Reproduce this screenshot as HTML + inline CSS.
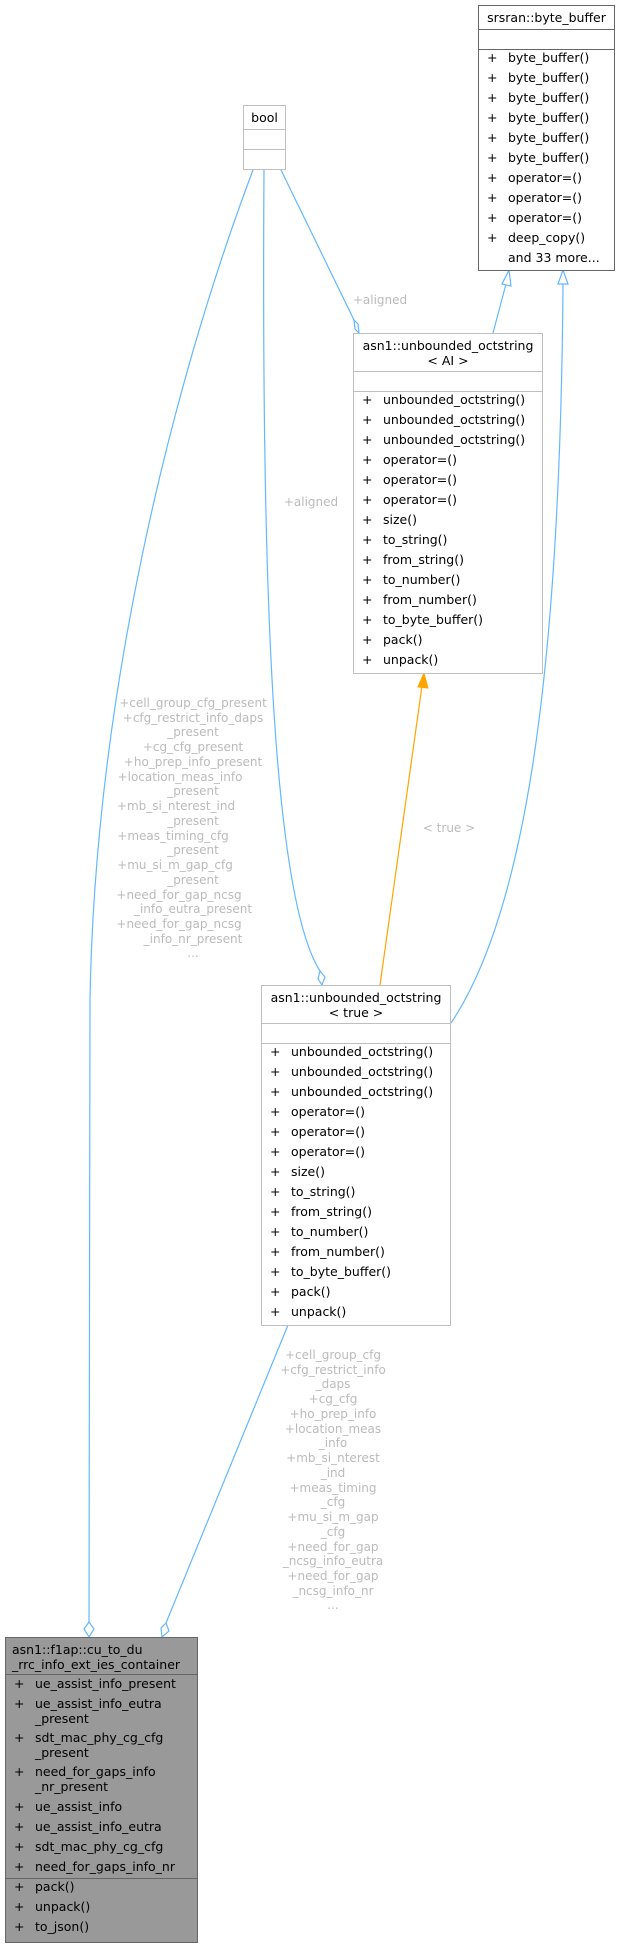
<!DOCTYPE html>
<html><head><meta charset="utf-8"><style>
html,body{margin:0;padding:0;background:#fff}
svg{display:block}
text{font-family:"DejaVu Sans","Liberation Sans",sans-serif}
.t{font-size:12.5px;fill:#000}
.l{font-size:12px;fill:#bbb}
</style></head><body>
<svg width="620" height="1947" viewBox="0 0 620 1947" xmlns="http://www.w3.org/2000/svg">
<g fill="none" stroke="#63b8ff" stroke-width="1.2">
<path d="M253,170 C170,390 95,700 90,1000 L89,1622"/>
<path d="M264,170 C261,620 275,900 320,971"/>
<path d="M281,170 L354,320"/>
<path d="M493,333 L506,284"/>
<path d="M451,1023 C520,920 560,700 563,284"/>
<path d="M288,1325 L166,1623"/>
</g>
<g fill="#fff" stroke="#63b8ff" stroke-width="1.2">
<polygon points="89,1622 84,1629 89,1637 94,1629"/>
<polygon points="166,1623 161,1628 162,1637 169,1631"/>
<polygon points="320,971 318,979 322,985 325,977"/>
<polygon points="354,320 355,329 359,333 358,324"/>
<polygon points="509,270 502,284 511,286"/>
<polygon points="563,270 558,284 568,284"/>
</g>
<path d="M380,985 L422,686" stroke="#ffa500" stroke-width="1.2" fill="none"/>
<polygon points="424,673 418,687 428,688" fill="#ffa500" stroke="#ffa500"/>
<text class="l" x="380" y="304" text-anchor="middle">+aligned</text>
<text class="l" x="311" y="506" text-anchor="middle">+aligned</text>
<text class="l" x="449" y="832" text-anchor="middle">&lt; true &gt;</text>
<g class="l" text-anchor="middle">
<text x="193" y="707">+cell_group_cfg_present</text>
<text x="193" y="722">+cfg_restrict_info_daps</text>
<text x="193" y="736">_present</text>
<text x="193" y="751">+cg_cfg_present</text>
<text x="193" y="766">+ho_prep_info_present</text>
<text x="180" y="781">+location_meas_info</text>
<text x="193" y="795">_present</text>
<text x="176" y="810">+mb_si_nterest_ind</text>
<text x="193" y="825">_present</text>
<text x="173" y="840">+meas_timing_cfg</text>
<text x="193" y="854">_present</text>
<text x="175" y="869">+mu_si_m_gap_cfg</text>
<text x="193" y="884">_present</text>
<text x="179" y="899">+need_for_gap_ncsg</text>
<text x="193" y="913">_info_eutra_present</text>
<text x="179" y="928">+need_for_gap_ncsg</text>
<text x="193" y="943">_info_nr_present</text>
<text x="193" y="957">...</text>
</g>
<g class="l" text-anchor="middle">
<text x="333" y="1359">+cell_group_cfg</text>
<text x="333" y="1374">+cfg_restrict_info</text>
<text x="333" y="1388">_daps</text>
<text x="333" y="1403">+cg_cfg</text>
<text x="333" y="1418">+ho_prep_info</text>
<text x="333" y="1433">+location_meas</text>
<text x="333" y="1447">_info</text>
<text x="333" y="1462">+mb_si_nterest</text>
<text x="333" y="1477">_ind</text>
<text x="333" y="1492">+meas_timing</text>
<text x="333" y="1506">_cfg</text>
<text x="333" y="1521">+mu_si_m_gap</text>
<text x="333" y="1536">_cfg</text>
<text x="333" y="1551">+need_for_gap</text>
<text x="333" y="1565">_ncsg_info_eutra</text>
<text x="333" y="1580">+need_for_gap</text>
<text x="333" y="1595">_ncsg_info_nr</text>
<text x="333" y="1609">...</text>
</g>
<g fill="#fff" stroke="#bfbfbf" stroke-width="1">
<rect x="243.5" y="105.5" width="42" height="64"/>
<line x1="243.5" y1="129.5" x2="285.5" y2="129.5"/>
<line x1="243.5" y1="149.5" x2="285.5" y2="149.5"/>
</g>
<text class="t" x="264.5" y="122" text-anchor="middle">bool</text>
<g fill="#fff" stroke="#666" stroke-width="1">
<rect x="478.5" y="5.5" width="136" height="265"/>
<line x1="478.5" y1="29.5" x2="614.5" y2="29.5"/>
<line x1="478.5" y1="49.5" x2="614.5" y2="49.5"/>
</g>
<text class="t" x="546.5" y="22" text-anchor="middle">srsran::byte_buffer</text>
<g class="t">
<text x="487" y="62">+</text><text x="508" y="62">byte_buffer()</text>
<text x="487" y="82">+</text><text x="508" y="82">byte_buffer()</text>
<text x="487" y="102">+</text><text x="508" y="102">byte_buffer()</text>
<text x="487" y="122">+</text><text x="508" y="122">byte_buffer()</text>
<text x="487" y="142">+</text><text x="508" y="142">byte_buffer()</text>
<text x="487" y="162">+</text><text x="508" y="162">byte_buffer()</text>
<text x="487" y="182">+</text><text x="508" y="182">operator=()</text>
<text x="487" y="202">+</text><text x="508" y="202">operator=()</text>
<text x="487" y="222">+</text><text x="508" y="222">operator=()</text>
<text x="487" y="242">+</text><text x="508" y="242">deep_copy()</text>
<text x="508" y="262">and 33 more...</text>
</g>
<g fill="#fff" stroke="#bfbfbf" stroke-width="1">
<rect x="353.5" y="333.5" width="189" height="340"/>
<line x1="353.5" y1="371.5" x2="542.5" y2="371.5"/>
<line x1="353.5" y1="391.5" x2="542.5" y2="391.5"/>
</g>
<text class="t" x="448" y="350" text-anchor="middle">asn1::unbounded_octstring</text>
<text class="t" x="448" y="365" text-anchor="middle">&lt; AI &gt;</text>
<g class="t">
<text x="362" y="404">+</text><text x="383" y="404">unbounded_octstring()</text>
<text x="362" y="424">+</text><text x="383" y="424">unbounded_octstring()</text>
<text x="362" y="444">+</text><text x="383" y="444">unbounded_octstring()</text>
<text x="362" y="464">+</text><text x="383" y="464">operator=()</text>
<text x="362" y="484">+</text><text x="383" y="484">operator=()</text>
<text x="362" y="504">+</text><text x="383" y="504">operator=()</text>
<text x="362" y="524">+</text><text x="383" y="524">size()</text>
<text x="362" y="544">+</text><text x="383" y="544">to_string()</text>
<text x="362" y="564">+</text><text x="383" y="564">from_string()</text>
<text x="362" y="584">+</text><text x="383" y="584">to_number()</text>
<text x="362" y="604">+</text><text x="383" y="604">from_number()</text>
<text x="362" y="624">+</text><text x="383" y="624">to_byte_buffer()</text>
<text x="362" y="644">+</text><text x="383" y="644">pack()</text>
<text x="362" y="664">+</text><text x="383" y="664">unpack()</text>
</g>
<g fill="#fff" stroke="#bfbfbf" stroke-width="1">
<rect x="261.5" y="985.5" width="189" height="340"/>
<line x1="261.5" y1="1023.5" x2="450.5" y2="1023.5"/>
<line x1="261.5" y1="1043.5" x2="450.5" y2="1043.5"/>
</g>
<text class="t" x="356" y="1002" text-anchor="middle">asn1::unbounded_octstring</text>
<text class="t" x="356" y="1017" text-anchor="middle">&lt; true &gt;</text>
<g class="t">
<text x="270" y="1056">+</text><text x="291" y="1056">unbounded_octstring()</text>
<text x="270" y="1076">+</text><text x="291" y="1076">unbounded_octstring()</text>
<text x="270" y="1096">+</text><text x="291" y="1096">unbounded_octstring()</text>
<text x="270" y="1116">+</text><text x="291" y="1116">operator=()</text>
<text x="270" y="1136">+</text><text x="291" y="1136">operator=()</text>
<text x="270" y="1156">+</text><text x="291" y="1156">operator=()</text>
<text x="270" y="1176">+</text><text x="291" y="1176">size()</text>
<text x="270" y="1196">+</text><text x="291" y="1196">to_string()</text>
<text x="270" y="1216">+</text><text x="291" y="1216">from_string()</text>
<text x="270" y="1236">+</text><text x="291" y="1236">to_number()</text>
<text x="270" y="1256">+</text><text x="291" y="1256">from_number()</text>
<text x="270" y="1276">+</text><text x="291" y="1276">to_byte_buffer()</text>
<text x="270" y="1296">+</text><text x="291" y="1296">pack()</text>
<text x="270" y="1316">+</text><text x="291" y="1316">unpack()</text>
</g>
<g fill="#999" stroke="#666" stroke-width="1">
<rect x="5.5" y="1637.5" width="192" height="305"/>
<line x1="5.5" y1="1674.5" x2="197.5" y2="1674.5"/>
<line x1="5.5" y1="1878.5" x2="197.5" y2="1878.5"/>
</g>
<text class="t" x="12" y="1654">asn1::f1ap::cu_to_du</text>
<text class="t" x="12" y="1669">_rrc_info_ext_ies_container</text>
<g class="t">
<text x="14" y="1688">+</text><text x="35" y="1688">ue_assist_info_present</text>
<text x="14" y="1708">+</text><text x="35" y="1708">ue_assist_info_eutra</text>
<text x="35" y="1723">_present</text>
<text x="14" y="1742">+</text><text x="35" y="1742">sdt_mac_phy_cg_cfg</text>
<text x="35" y="1757">_present</text>
<text x="14" y="1776">+</text><text x="35" y="1776">need_for_gaps_info</text>
<text x="35" y="1791">_nr_present</text>
<text x="14" y="1811">+</text><text x="35" y="1811">ue_assist_info</text>
<text x="14" y="1831">+</text><text x="35" y="1831">ue_assist_info_eutra</text>
<text x="14" y="1851">+</text><text x="35" y="1851">sdt_mac_phy_cg_cfg</text>
<text x="14" y="1871">+</text><text x="35" y="1871">need_for_gaps_info_nr</text>
<text x="14" y="1891">+</text><text x="35" y="1891">pack()</text>
<text x="14" y="1911">+</text><text x="35" y="1911">unpack()</text>
<text x="14" y="1931">+</text><text x="35" y="1931">to_json()</text>
</g>
</svg>
</body></html>
